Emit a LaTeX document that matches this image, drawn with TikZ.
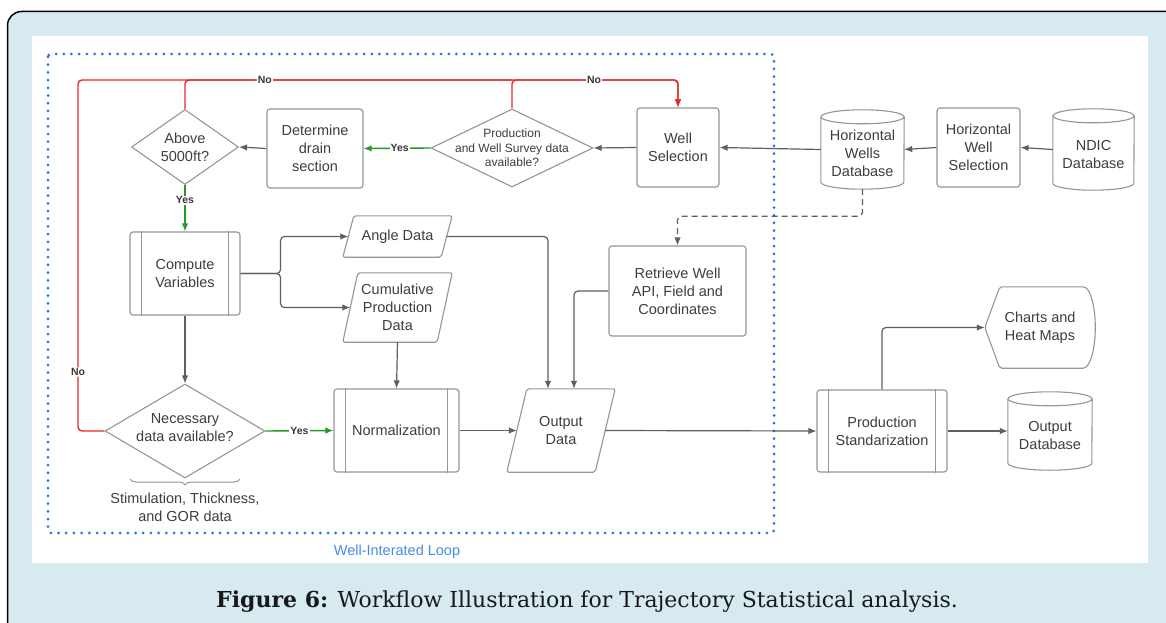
\documentclass[tikz,border=0pt]{standalone}
\usepackage{fontspec}
\setmainfont{Liberation Sans}
\newfontfamily\capfont{DejaVu Serif}
\usetikzlibrary{arrows.meta,calc,shapes.geometric,decorations.pathreplacing}
\definecolor{bgblue}{RGB}{214,234,240}
\definecolor{bd}{RGB}{150,150,150}
\definecolor{txt}{RGB}{62,62,62}
\definecolor{ln}{RGB}{95,95,95}
\definecolor{redl}{RGB}{232,40,40}
\definecolor{greenl}{RGB}{40,150,40}
\definecolor{loopblue}{RGB}{30,115,235}
\definecolor{looptext}{RGB}{70,140,230}
\tikzset{
  base/.style={font=\fontsize{14.5}{18}\selectfont, text=txt, align=center, inner sep=0pt},
  box/.style={base, draw=bd, line width=1.1pt, rounded corners=3pt},
  plain/.style={base},
  outline/.style={draw=bd, line width=1.1pt, rounded corners=2pt},
  cylline/.style={draw=bd, line width=1.1pt},
  dec/.style={diamond, draw=bd, line width=1.1pt, inner sep=0pt},
  bar/.style={draw=bd, line width=1.1pt},
  arr/.style={draw=ln, line width=1.2pt, -{Latex[length=8pt,width=6.5pt]}, rounded corners=4pt},
  redarr/.style={draw=redl, line width=1.4pt, rounded corners=4pt},
  greenarr/.style={draw=greenl, line width=1.4pt, -{Latex[length=8pt,width=6.5pt]}},
  lbl/.style={font=\bfseries\fontsize{10.5}{12}\selectfont, text=txt!90!black, fill=white, inner sep=1pt}
}
\newcommand\procbars[1]{%
  \draw[bar] ([xshift=12pt]#1.north west) -- ([xshift=12pt]#1.south west);
  \draw[bar] ([xshift=-12pt]#1.north east) -- ([xshift=-12pt]#1.south east);}
\newcommand\para[2]{%
  \draw[outline] ([xshift=#2]#1.north west) -- ([xshift=#2]#1.north east) -- ([xshift=-#2]#1.south east) -- ([xshift=-#2]#1.south west) -- cycle;}
\newcommand\cyl[3]{%
  \draw[cylline] ($(#1.north)+(0,#3)$) ellipse [x radius=#2pt, y radius=#3pt];
  \draw[cylline] ($(#1.north west)+(0,#3)$) -- ($(#1.south west)+(0,-#3)$) arc[start angle=180, end angle=360, x radius=#2pt, y radius=#3pt] -- ($(#1.north east)+(0,#3)$);}
\begin{document}
\begin{tikzpicture}[x=1pt,y=-1pt]
\useasboundingbox (0,0) rectangle (1166,623);
\clip (0,0) rectangle (1166,623);
\fill[white] (0,0) rectangle (1166,623);
\draw[line width=1.5pt, fill=bgblue, rounded corners=14pt] (7.5,11.5) rectangle (1200,680);
\fill[white] (32,36) rectangle (1148,563);
% loop frame
\draw[loopblue, line width=3pt, line cap=round, dash pattern=on 0pt off 7.7pt, rounded corners=3pt] (48,54) rectangle (774,533);
\node[font=\fontsize{14.5}{17}\selectfont, text=looptext, inner sep=0pt] (loop) at (397,552) {Well-Interated Loop};

% coordinates for routing
\coordinate (top) at (0,80);
\coordinate (lft) at (78,0);

% nodes
\node[dec, minimum width=107pt, minimum height=75pt, label={[base, name=abovet]center:{Above\\5000ft?}}] (above) at (185,147) {};
\node[box, minimum width=96pt, minimum height=79pt] (det) at (315,148.5) {Determine\\drain\\section};
\node[dec, minimum width=162pt, minimum height=78pt, label={[base, name=pdt, font=\fontsize{12}{14.5}\selectfont]center:{Production\\and Well Survey data\\available?}}] (pd) at (512,148) {};
\node[box, minimum width=82pt, minimum height=79pt] (ws) at (678,147.5) {Well\\Selection};
\node[plain, minimum width=83pt, minimum height=79pt, label={[base, name=hwdbt, yshift=-4pt]center:{Horizontal\\Wells\\Database}}] (hwdb) at (862.5,149.5) {};
\node[box, minimum width=83pt, minimum height=79pt] (hws) at (978.5,147.5) {Horizontal\\Well\\Selection};
\node[plain, minimum width=81pt, minimum height=81pt, label={[base, name=ndict, yshift=-5pt]center:{NDIC\\Database}}] (ndic) at (1093.5,149.5) {};
\node[box, minimum width=110pt, minimum height=83pt] (cv) at (185,273.5) {Compute\\Variables};
\node[plain, minimum width=98pt, minimum height=41pt] (ad) at (397.5,236.5) {Angle Data};
\node[plain, minimum width=94pt, minimum height=69pt] (cp) at (397.5,307.5) {Cumulative\\Production\\Data};
\node[dec, minimum width=160pt, minimum height=94pt, label={[base, name=nect, yshift=3pt]center:{Necessary\\data available?}}] (nec) at (185,431) {};
\node[box, minimum width=125pt, minimum height=83pt] (norm) at (396.5,430.5) {Normalization};
\node[plain, minimum width=88pt, minimum height=83pt] (od) at (561,430.5) {Output\\Data};
\node[box, minimum width=137pt, minimum height=90pt] (ret) at (677.5,291) {Retrieve Well\\API, Field and\\Coordinates};
\node[box, minimum width=130pt, minimum height=82pt] (ps) at (882,431) {Production\\Standarization};
\node[plain, minimum width=110pt, minimum height=81pt] (charts) at (1040,327.5) {Charts and\\Heat Maps};
\node[plain, minimum width=84pt, minimum height=78pt, label={[base, name=odbt, yshift=-5pt]center:{Output\\Database}}] (odb) at (1050,431) {};
\node[base] (stim) at (185,507) {Stimulation, Thickness,\\and GOR data};

% outlines
\procbars{cv}
\procbars{norm}
\procbars{ps}
\para{ad}{5.5pt}
\para{cp}{7.5pt}
\para{od}{10pt}
\cyl{hwdb}{41.5}{7}
\cyl{ndic}{40.5}{7}
\cyl{odb}{42}{7}
\draw[outline] (charts.west) -- ([xshift=15pt]charts.north west) -- ([xshift=-10pt]charts.north east)
  .. controls ([xshift=3pt,yshift=-14pt]charts.north east) and ([xshift=3pt,yshift=14pt]charts.south east) .. ([xshift=-10pt]charts.south east)
  -- ([xshift=15pt]charts.south west) -- cycle;
\draw[draw=bd, line width=1pt, decorate, decoration={brace, amplitude=6pt, mirror}] (130,479) -- (240,479);

% gray connectors
\draw[arr] (ndic.west) -- (hws.east);
\draw[arr] (hws.west) -- (hwdb.east);
\draw[arr] (hwdb.west) -- (ws.east);
\draw[arr] (ws.west) -- (pd.east);
\draw[arr] (det.west) -- (above.east);
\draw[arr] (cv.east) -- ++(40,0) |- (ad.west);
\draw[arr] (cv.east) -- ++(40,0) |- (cp.west);
\draw[arr] (cv.south) -- (nec.north);
\draw[arr] (cp.south) -- (norm.north);
\draw[arr] (norm.east) -- (od.west);
\draw[arr] (ad.east) -| ([xshift=-13pt]od.north);
\draw[arr] (ret.west) -| ([xshift=13pt]od.north);
\draw[arr, dashed, dash pattern=on 6pt off 4pt] (hwdb.south) -- ++(0,27) -| (ret.north);
\draw[arr] (od.east) -- (ps.west);
\draw[arr] (ps.east) -- (odb.west);
\draw[arr] (ps.north) |- (charts.west);

% green connectors
\draw[greenarr] (pd.west) -- node[lbl, pos=0.46] {Yes} (det.east);
\draw[greenarr] (above.south) -- node[lbl, pos=0.33] {Yes} (cv.north);
\draw[greenarr] (nec.east) -- node[lbl, pos=0.5] {Yes} (norm.west);

% red connectors
\draw[redarr, -{Latex[length=8pt,width=6.5pt]}] (nec.west) -| node[lbl, pos=0.584] {No} (lft |- top) -- (ws.north |- top) -- (ws.north);
\draw[redarr] (above.north) |- node[lbl, pos=0.622] {No} (pd.north |- top);
\draw[redarr, -{Latex[length=8pt,width=6.5pt]}] (pd.north) |- node[lbl, pos=0.747] {No} (ws.north |- top) -- (ws.north);

% caption
\node[font=\capfont\fontsize{22}{26}\selectfont, text=black!90, inner sep=0pt] (cap) at (587,602) {\textbf{Figure 6:} Workflow Illustration for Trajectory Statistical analysis.};
\end{tikzpicture}
\end{document}
